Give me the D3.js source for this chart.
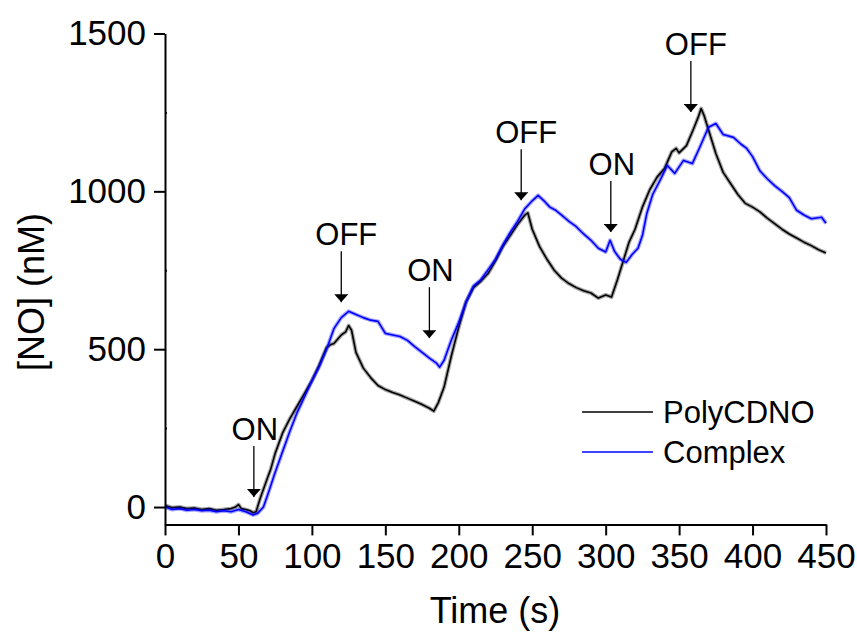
<!DOCTYPE html>
<html>
<head>
<meta charset="utf-8">
<script src="https://cdn.jsdelivr.net/npm/d3@7/dist/d3.min.js"></script>
<style>
  html, body { margin: 0; padding: 0; background: #fff; }
  svg { display: block; font-family: "Liberation Sans", Arial, sans-serif; }
</style>
</head>
<body>
<svg id="chart" width="857" height="634"></svg>
<script>
// NO release traces, time in s, concentration in nM
const polyTime = [0,5,10,15,20,25,30,35,40,45,48,50,52,55,58,60,62,65,70,72,75,80,85,90,95,100,105,110,113,115,120,123,125,127,130,135,140,145,150,155,160,165,170,175,180,183,186,190,195,200,205,210,215,220,225,230,235,240,245,247,250,255,260,265,270,275,280,285,290,295,300,304,308,312,316,320,325,330,335,340,345,348,350,355,360,363,365,367,370,375,380,385,390,395,400,405,410,415,420,425,430,435,440,445,450];
const polyNO   = [5,-2,0,-5,-3,-8,-5,-10,-8,-5,0,8,-5,-8,-12,-18,-15,30,95,120,170,234,280,320,360,400,450,505,515,518,545,555,575,560,490,440,410,385,372,363,355,345,335,325,313,304,330,380,480,570,650,695,715,740,780,825,860,895,925,932,880,825,785,750,725,708,695,685,678,662,672,665,720,780,840,880,950,1005,1045,1072,1125,1136,1122,1145,1200,1235,1262,1240,1195,1120,1060,1025,990,962,950,935,915,898,880,865,852,839,828,815,805];

const complexTime = [0,5,10,15,20,25,30,35,40,45,50,55,60,63,67,70,75,80,85,90,95,100,105,110,115,120,125,130,135,140,145,150,155,160,165,170,175,180,185,187,190,195,200,205,210,215,220,225,230,235,240,245,250,254,258,262,266,270,275,280,285,290,295,300,303,306,310,314,318,322,325,328,332,337,342,347,353,359,364,370,375,380,387,392,396,400,405,410,415,420,425,430,435,440,447,450];
const complexNO   = [0,-8,-5,-10,-8,-12,-10,-15,-12,-15,-8,-15,-25,-20,0,40,110,175,240,300,350,400,445,500,565,600,620,610,600,592,588,550,545,540,528,508,490,472,455,443,465,530,585,650,700,720,752,785,830,870,905,945,970,987,970,950,940,925,905,888,865,845,820,808,845,810,785,775,800,820,860,930,990,1035,1082,1057,1098,1088,1139,1203,1215,1180,1171,1150,1136,1110,1065,1040,1018,1000,980,940,925,913,918,899];

// Light switching marks: time of the arrow, value at the arrow tip
const markTime  = [60.5, 120, 180, 242.5, 303.5, 358];
const markTip   = [32, 649, 535, 972, 871, 1251];
const markLabel = ["ON", "OFF", "ON", "OFF", "ON", "OFF"];

const xTicks = [0, 50, 100, 150, 200, 250, 300, 350, 400, 450];
const yTicks = [0, 500, 1000, 1500];
const yMinorTicks = [250, 750, 1250];

const seriesNames  = ["PolyCDNO", "Complex"];
const seriesColors = ["#000000", "#0000ff"];

const svg = d3.select("#chart");
const x = d3.scaleLinear().domain([0, 450]).range([165, 826]);
const y = d3.scaleLinear().domain([-55, 1500]).range([524.4, 33.5]);

const series = [
  { name: seriesNames[0], color: seriesColors[0], pts: polyTime.map((t, i) => [t, polyNO[i]]) },
  { name: seriesNames[1], color: seriesColors[1], pts: complexTime.map((t, i) => [t, complexNO[i]]) }
];

const line = d3.line().x(d => x(d[0])).y(d => y(d[1]));

// traces: a soft wide band (detector noise) under a thin core, Complex drawn last
const traces = svg.append("g").selectAll("g").data(series).join("g");
traces.append("path")
  .attr("d", d => line(d.pts))
  .attr("fill", "none")
  .attr("stroke", d => d.color)
  .attr("stroke-opacity", 0.35)
  .attr("stroke-width", 4)
  .attr("stroke-linejoin", "round");
traces.append("path")
  .attr("d", d => line(d.pts))
  .attr("fill", "none")
  .attr("stroke", d => d.color)
  .attr("stroke-width", 1.6)
  .attr("stroke-linejoin", "round");

// axes
const xAxis = svg.append("g").attr("transform", `translate(0,${y.range()[0]})`)
  .call(d3.axisBottom(x).tickValues(xTicks).tickFormat(d3.format("d"))
    .tickSize(11).tickPadding(8).tickSizeOuter(0));
const yAxis = svg.append("g").attr("transform", `translate(${x.range()[0]},0)`)
  .call(d3.axisLeft(y).tickValues(yTicks).tickFormat(d3.format("d"))
    .tickSize(11).tickPadding(8).tickSizeOuter(0));
svg.append("g").attr("transform", `translate(${x.range()[0]},0)`)
  .call(d3.axisRight(y).tickValues(yMinorTicks).tickSize(2).tickFormat(""))
  .call(g => g.select(".domain").remove())
  .call(g => g.selectAll(".tick line").attr("stroke", "#000").attr("stroke-width", 2));

[xAxis, yAxis].forEach(g => {
  g.select(".domain").attr("stroke", "#000").attr("stroke-width", 2);
  g.selectAll(".tick line").attr("stroke", "#000").attr("stroke-width", 2);
  g.selectAll(".tick text").attr("fill", "#000").style("font-size", "35px")
    .style("font-family", "'Liberation Sans', Arial, sans-serif");
});
xAxis.selectAll(".tick text").attr("dy", "0.71em");

svg.append("text").attr("x", 495).attr("y", 623).attr("text-anchor", "middle")
  .style("font-size", "36px").text("Time (s)");
svg.append("text").attr("transform", "translate(44,292) rotate(-90)").attr("text-anchor", "middle")
  .style("font-size", "36px").text("[NO] (nM)");

// ON/OFF arrows
svg.append("defs").append("marker")
  .attr("id", "head").attr("viewBox", "0 0 8 14").attr("refX", 8).attr("refY", 7)
  .attr("markerWidth", 8).attr("markerHeight", 14).attr("markerUnits", "userSpaceOnUse")
  .attr("orient", "auto")
  .append("path").attr("d", "M0,0 L8,7 L0,14 Z").attr("fill", "#000");

const marks = markTime.map((t, i) => ({ t, v: markTip[i], label: markLabel[i] }));
const mg = svg.append("g").selectAll("g").data(marks).join("g");
mg.append("line")
  .attr("x1", d => x(d.t)).attr("x2", d => x(d.t))
  .attr("y1", d => y(d.v) - 51).attr("y2", d => y(d.v))
  .attr("stroke", "#000").attr("stroke-width", 1.3)
  .attr("marker-end", "url(#head)");
mg.append("text")
  .attr("x", d => x(d.t) + (d.label === "OFF" ? 5 : 1))
  .attr("y", d => y(d.v) - 57)
  .attr("text-anchor", "middle")
  .style("font-size", "31px")
  .text(d => d.label);

// legend
const lg = svg.append("g").selectAll("g").data(series).join("g")
  .attr("transform", (d, i) => `translate(582,${412 + i * 40})`);
lg.append("line").attr("x1", 0).attr("x2", 71).attr("y1", 0).attr("y2", 0)
  .attr("stroke", d => d.color).attr("stroke-width", 1.3);
lg.append("text").attr("x", 81).attr("y", 11).style("font-size", "31px").text(d => d.name);
</script>
</body>
</html>
